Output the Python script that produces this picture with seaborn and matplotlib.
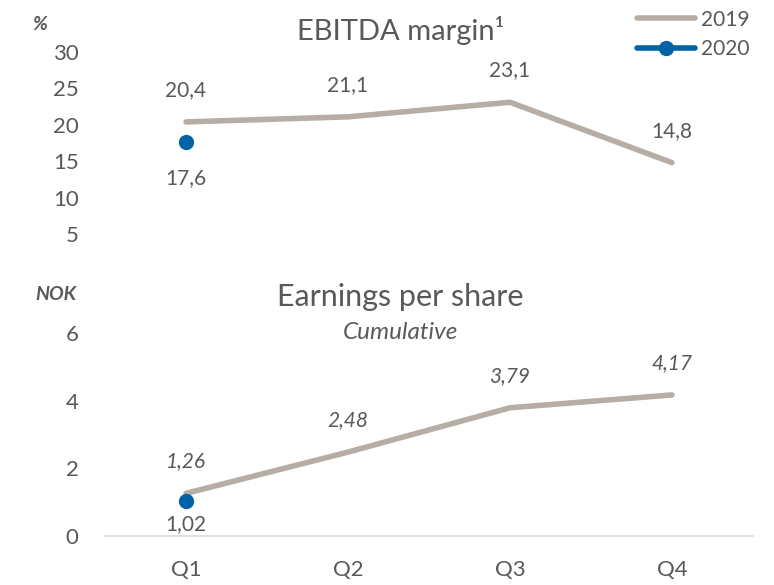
import matplotlib
matplotlib.use("Agg")
import matplotlib.pyplot as plt
import seaborn as sns

###
### DATA
###

quarters = ['Q1', 'Q2', 'Q3', 'Q4']
ebitda_2019 = [20.4, 21.1, 23.1, 14.8]
ebitda_2020 = [17.6]
eps_2019 = [1.26, 2.48, 3.79, 4.17]
eps_2020 = [1.02]

ebitda_ticks = [5, 10, 15, 20, 25, 30]
eps_ticks = [0, 2, 4, 6]

grey = '#b6ada5'
blue = '#0063a6'
text_col = '#595959'

sns.set_theme(style='white')
plt.rcParams['font.family'] = ['Lato', 'DejaVu Sans']


def fmt(v, d):
    return f'{v:.{d}f}'.replace('.', ',')


def draw_series(ax, v19, v20):
    pos19 = list(range(len(v19)))
    pos20 = list(range(len(v20)))
    sns.lineplot(x=pos19, y=v19, color=grey, linewidth=4, ax=ax,
                 solid_capstyle='round')
    sns.lineplot(x=pos20, y=v20, color=blue, linewidth=4, marker='o',
                 markersize=11, markeredgewidth=0, ax=ax)


fig = plt.figure(figsize=(7.74, 5.85), dpi=100)
ax_top = fig.add_axes([0.1357, 0.5875, 0.8372, 0.336])
ax_bot = fig.add_axes([0.1357, 0.0838, 0.8372, 0.3643])

###
### EBITDA MARGIN
###

draw_series(ax_top, ebitda_2019, ebitda_2020)
ax_top.set_xlim(-0.5, 3.5)
ax_top.set_ylim(4, 31)
ax_top.set_yticks(ebitda_ticks)
ax_top.set_xticks([])
for i, v in enumerate(ebitda_2019):
    ax_top.annotate(fmt(v, 1), (i, v), xytext=(0, 23), textcoords='offset points',
                    ha='center', va='center', fontsize=15, color=text_col)
for i, v in enumerate(ebitda_2020):
    ax_top.annotate(fmt(v, 1), (i, v), xytext=(0, -26), textcoords='offset points',
                    ha='center', va='center', fontsize=15, color=text_col)

###
### EARNINGS PER SHARE
###

draw_series(ax_bot, eps_2019, eps_2020)
ax_bot.set_xlim(-0.5, 3.5)
ax_bot.set_ylim(0, 6.3)
ax_bot.set_yticks(eps_ticks)
ax_bot.set_xticks(range(len(quarters)))
ax_bot.set_xticklabels(quarters)
for i, v in enumerate(eps_2019):
    ax_bot.annotate(fmt(v, 2), (i, v), xytext=(0, 23), textcoords='offset points',
                    ha='center', va='center', fontsize=15, color=text_col,
                    style='italic')
for i, v in enumerate(eps_2020):
    ax_bot.annotate(fmt(v, 2), (i, v), xytext=(0, -16), textcoords='offset points',
                    ha='center', va='center', fontsize=15, color=text_col)

for ax in (ax_top, ax_bot):
    sns.despine(ax=ax, left=True, bottom=True, top=True, right=True)
    ax.set_xlabel('')
    ax.set_ylabel('')
    ax.tick_params(axis='both', length=0, labelsize=16, labelcolor=text_col)
    ax.patch.set_alpha(0)

ax_bot.spines['bottom'].set_visible(True)
ax_bot.spines['bottom'].set_color('#d9d9d9')
ax_bot.spines['bottom'].set_linewidth(1.2)
ax_bot.tick_params(axis='x', pad=17)
ax_bot.tick_params(axis='y', pad=19)
ax_top.tick_params(axis='y', pad=19)

###
### TITLES AND LEGEND
###

fig.text(0.517, 0.948, 'EBITDA margin¹', ha='center', va='center',
         fontsize=21, color=text_col)
fig.text(0.517, 0.492, 'Earnings per share', ha='center', va='center',
         fontsize=22, color=text_col)
fig.text(0.517, 0.431, 'Cumulative', ha='center', va='center',
         fontsize=17.5, color=text_col, style='italic')
fig.text(0.052, 0.958, '%', ha='center', va='center', fontsize=14,
         color=text_col, weight='bold', style='italic')
fig.text(0.072, 0.496, 'NOK', ha='center', va='center', fontsize=14,
         color=text_col, weight='bold', style='italic')

h19 = plt.Line2D([], [], color=grey, lw=4, solid_capstyle='round')
h20 = plt.Line2D([], [], color=blue, lw=4, marker='o', markersize=10,
                 solid_capstyle='round')
fig.legend([h19, h20], ['2019', '2020'], loc='upper right',
           bbox_to_anchor=(0.985, 1.005), frameon=False, fontsize=15,
           labelcolor=text_col, handlelength=2.8, handletextpad=0.3,
           labelspacing=0.45, borderaxespad=0.2)

plt.savefig('out.png', dpi=100)
